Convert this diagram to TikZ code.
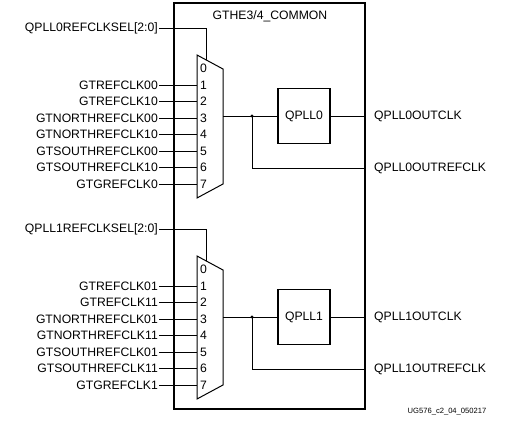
\documentclass[tikz,border=0pt]{standalone}
\usepackage{fontspec}
\setmainfont{Liberation Sans}
\usetikzlibrary{calc}
\begin{document}
\begin{tikzpicture}[x=1pt,y=-1pt,
  lbl/.style={font=\fontsize{12.2}{14}\selectfont, inner sep=0pt},
  pinnum/.style={font=\fontsize{12.2}{14}\selectfont, inner sep=0pt, anchor=west},
  wire/.style={line width=0.8pt},
  muxline/.style={line width=1pt, line join=miter},
  blk/.style={draw, line width=1.1pt, minimum width=52pt, minimum height=55pt, inner sep=0pt, font=\fontsize{12.2}{14}\selectfont},
  outer/.style={draw, line width=1.3pt, minimum width=191pt, minimum height=406pt, inner sep=0pt},
  jdot/.style={circle, fill, inner sep=0pt, minimum size=3.4pt}
]
\useasboundingbox (0,0) rectangle (518,422);
\node[outer] (common) at (269.5,206) {};
\node[lbl] (title) at (270,16) {GTHE3/4\_COMMON};
\node[inner sep=0pt, font=\fontsize{7.6}{9}\selectfont] (fig) at (447,412) {UG576\_c2\_04\_050217};
\foreach \ii/\dy in {0/0,1/201} {
  % mux trapezoid
  \coordinate (mtl\ii) at (197,55+\dy);
  \coordinate (mtr\ii) at (223,69+\dy);
  \coordinate (mbr\ii) at (223,184+\dy);
  \coordinate (mbl\ii) at (197,198+\dy);
  \draw[muxline] (mtl\ii) -- (mtr\ii) -- (mbr\ii) -- (mbl\ii) -- cycle;
  % select
  \node[lbl, anchor=east] (sel\ii) at (158,28+\dy) {QPLL\ii REFCLKSEL[2:0]};
  \draw[wire] ([xshift=1pt]sel\ii.east) -| ($(mtl\ii)!0.35!(mtr\ii)$);
  \node[pinnum] (pin\ii x0) at (200,68.5+\dy) {0};
  % inputs
  \foreach \j/\nm in {1/GTREFCLK0,2/GTREFCLK1,3/GTNORTHREFCLK0,4/GTNORTHREFCLK1,5/GTSOUTHREFCLK0,6/GTSOUTHREFCLK1,7/GTGREFCLK} {
    \node[lbl, anchor=east] (in\ii x\j) at (158,{85+16.5*(\j-1)+\dy}) {\nm\ii};
    \node[pinnum] (pin\ii x\j) at (200,{85+16.5*(\j-1)+\dy}) {\j};
    \draw[wire] ([xshift=1pt]in\ii x\j.east) -- (in\ii x\j.east -| mtl\ii);
  }
  % PLL
  \coordinate (mo\ii) at (223,117+\dy);
  \node[blk] (pll\ii) at (304,116+\dy) {QPLL\ii};
  \node[jdot] (dot\ii) at (252,116+\dy) {};
  \draw[wire] (mo\ii |- pll\ii.west) -- (pll\ii.west);
  \node[lbl, anchor=west] (oc\ii) at (374,116+\dy) {QPLL\ii OUTCLK};
  \node[lbl, anchor=west] (orc\ii) at (374,168+\dy) {QPLL\ii OUTREFCLK};
  \draw[wire] (pll\ii.east) -- (pll\ii.east -| common.east);
  \draw[wire] (dot\ii.center) |- (orc\ii.west -| common.east);
}
\end{tikzpicture}
\end{document}
